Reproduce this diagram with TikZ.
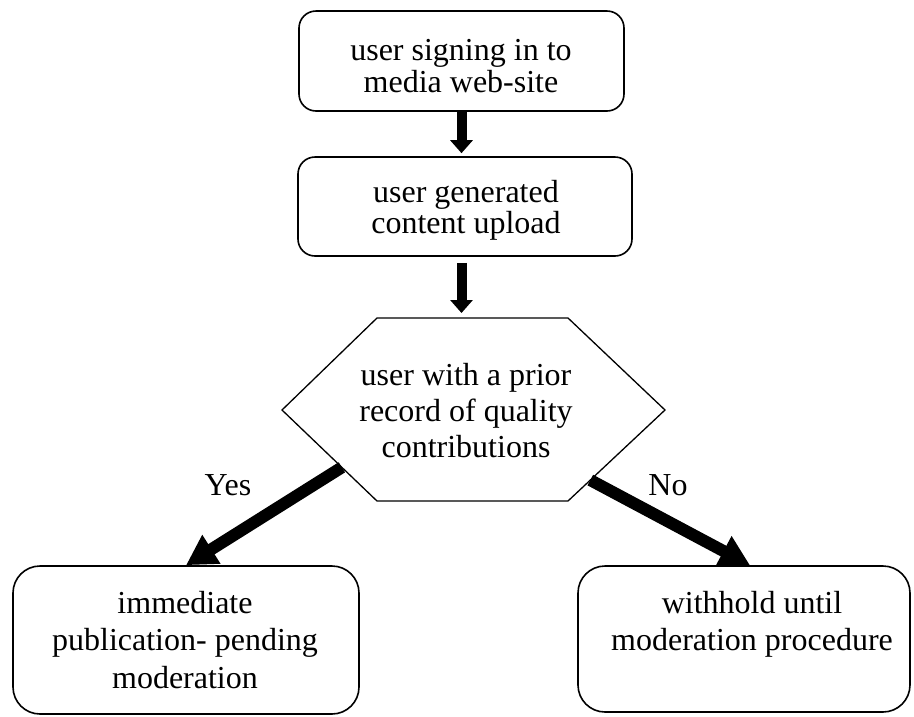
\documentclass[tikz,border=0pt]{standalone}
\usepackage{fontspec}
\setmainfont{Liberation Serif}
\usetikzlibrary{arrows.meta,calc}
\begin{document}
\begin{tikzpicture}[x=1pt,y=-1pt,
  box/.style={draw,line width=1.6pt,rounded corners=17pt,inner sep=0pt},
  bigbox/.style={box,rounded corners=27pt},
  txt/.style={align=center,inner sep=0pt,font=\fontsize{32}{#1}\selectfont},
  varrow/.style={line width=10pt,-{Triangle[width=22pt,length=13pt]}},
  darrow/.style={line width=12pt,-{Triangle[width=32pt,length=30pt]}},
  lbl/.style={inner sep=0pt,anchor=base,font=\fontsize{32}{37}\selectfont}]
\useasboundingbox (0,0) rectangle (914,716);
% boxes
\node[box,minimum width=325pt,minimum height=100pt] (box1) at (461.5,61) {};
\node[box,minimum width=334pt,minimum height=99pt] (box2) at (465,206.5) {};
\node[bigbox,minimum width=346pt,minimum height=148pt] (box3) at (186,640) {};
\node[bigbox,minimum width=332pt,minimum height=146pt] (box4) at (744,639) {};
% hexagon
\coordinate (hl) at (282,410);
\coordinate (htl) at (377,318);
\coordinate (htr) at (568,318);
\coordinate (hr) at (665,410);
\coordinate (hbr) at (568,501);
\coordinate (hbl) at (377,501);
\draw[line width=1.3pt,line join=miter] (hl) -- (htl) -- (htr) -- (hr) -- (hbr) -- (hbl) -- cycle;
% texts
\node[txt=29] (t1) at (461,70.7) {\strut user signing in to\\media web-site\strut};
\node[txt=27] (t2) at (466,211.1) {\strut user generated\\content upload\strut};
\node[txt=36] (t3) at (466,413.8) {\strut user with a prior\\record of quality\\contributions\strut};
\node[txt=37.5] (t4) at (185,643) {\strut immediate\\publication- pending\\moderation\strut};
\node[txt=37] (t5) at (752,624.1) {\strut withhold until\\moderation procedure\strut};
\node[lbl] (yes) at (228,495) {Yes};
\node[lbl] (no) at (668,495) {No};
% arrows
\draw[varrow,shorten >=3pt] (box1.south) -- (box1.south |- box2.north);
\draw[varrow,shorten <=6pt,shorten >=5pt] (box1.south |- box2.south) -- (box1.south |- htl);
\draw[darrow] ($(hl)!0.63!(hbl)$) -- (box3.north);
\draw[darrow] ($(hr)!0.77!(hbr)$) -- ([xshift=6pt]box4.north);
\end{tikzpicture}
\end{document}
